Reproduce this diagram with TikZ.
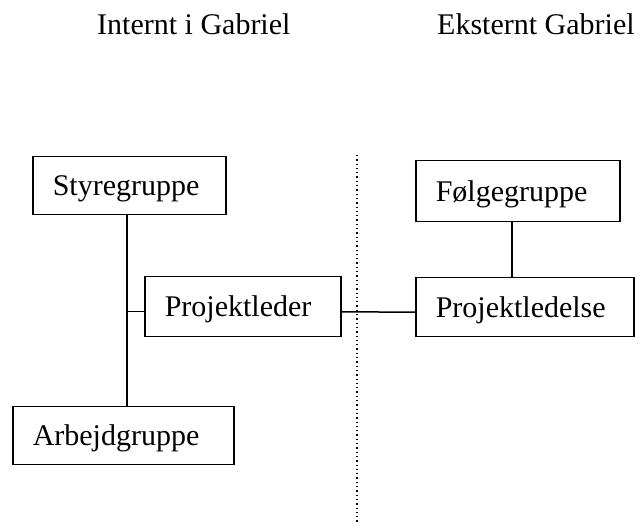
\documentclass[tikz,border=0pt]{standalone}
\usepackage{fontspec}
\setmainfont{Liberation Serif}
\begin{document}
\begin{tikzpicture}[x=1pt,y=-1pt,
  every node/.style={font=\fontsize{30}{36}\selectfont},
  orgbox/.style={draw, line width=1.5pt, anchor=north west, inner xsep=20pt,
    inner ysep=0pt, align=left, text height=20pt, text depth=0pt},
  heading/.style={anchor=base west, inner sep=0pt},
  link/.style={line width=1.5pt},
  divider/.style={line width=1.3pt, dash pattern=on 1.3pt off 3pt}]
\useasboundingbox (0,0) rectangle (643,526);

% column headings
\node[heading] (hint) at (97,35) {Internt i Gabriel};
\node[heading] (hext) at (437,35) {Eksternt Gabriel};

% internal organisation
\node[orgbox, text width=153pt, minimum height=58pt] (sg) at (32,156) {Styregruppe};
\node[orgbox, text width=156pt, minimum height=60pt] (pl) at (144,276) {Projektleder};
\node[orgbox, text width=181pt, minimum height=58pt] (ag) at (12,406) {Arbejdgruppe};

% external organisation
\node[orgbox, text width=164pt, minimum height=61pt] (fg) at (415,160) {Følgegruppe};
\node[orgbox, text width=178pt, minimum height=59pt] (ple) at (415,277) {Projektledelse};

% boundary between inside and outside
\coordinate (dtop) at (357,155);
\coordinate (dbot) at (357,523);
\draw[divider] (dtop) -- (dbot);

% connectors
\coordinate (spine) at (127,0);
\coordinate (ext) at (512,0);
\draw[link] (sg.south -| spine) -- (ag.north -| spine);
\draw[link] ([yshift=-5pt]pl.west) -- ([yshift=-5pt]pl.west -| spine);
\draw[link] ([yshift=-5pt]pl.east) -- ([yshift=-5pt]ple.west);
\draw[link] (fg.south -| ext) -- (ple.north -| ext);
\end{tikzpicture}
\end{document}
